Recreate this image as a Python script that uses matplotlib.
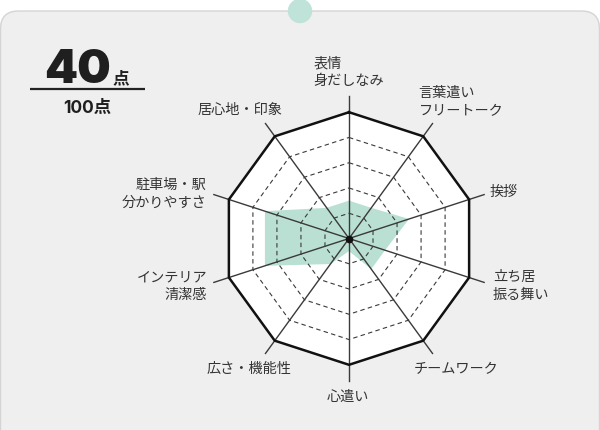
import numpy as np
import matplotlib
matplotlib.use("Agg")
import matplotlib.pyplot as plt
from matplotlib.patches import FancyBboxPatch, Circle, Polygon

# ── data ──────────────────────────────────────────────────────────────────────
categories = ["表情\n身だしなみ", "言葉遣い\nフリートーク", "挨拶", "立ち居\n振る舞い",
              "チームワーク", "心遣い", "広さ・機能性", "インテリア\n清潔感",
              "駐車場・駅\n分かりやすさ", "居心地・印象"]
scores = [3, 3, 5, 3, 3, 1, 2.5, 7, 7, 3]
max_score = 10
ring_levels = [2, 4, 6, 8, 10]
total_score = 40
total_max = 100

# ── layout (pixels of the 600x431 canvas) ────────────────────────────────────
W, H = 600, 431
CX, CY, UNIT = 349.0, 239.5, 12.63          # radar centre and px per score unit
label_centres = [(349, 72), (461, 102), (504, 192), (521, 286), (456, 369),
                 (348, 397), (249, 369), (172, 286), (164, 194), (240, 110)]
label_align = ["left", "left", "center", "left", "center",
               "center", "center", "right", "right", "center"]

JP = ["Noto Sans CJK JP", "DejaVu Sans"]
NUM = ["Inter", "Noto Sans CJK JP", "DejaVu Sans"]

fig = plt.figure(figsize=(W / 100, H / 100), dpi=100)

# background card
bg = fig.add_axes([0, 0, 1, 1])
bg.set_xlim(0, W); bg.set_ylim(H, 0); bg.axis("off")
bg.add_patch(FancyBboxPatch((0.5, 12), W - 1, 460,
                            boxstyle="round,pad=0,rounding_size=18",
                            fc="#efefef", ec="#d4d4d4", lw=1.0))
bg.add_patch(Circle((300, 12), 11.5, color="#bfe3d9", zorder=3))

# score block
bg.text(78, 83, str(total_score), fontsize=34, fontweight="black", family=NUM,
        color="#1f1f1f", ha="center", va="baseline")
bg.text(112, 83.5, "点", fontsize=12, fontweight="bold", family=JP,
        color="#1f1f1f", ha="left", va="baseline")
bg.plot([30, 145], [89.5, 89.5], color="#222222", lw=1.6, solid_capstyle="butt")
bg.text(87, 113, f"{total_max}点", fontsize=12.5, fontweight="bold", family=NUM,
        color="#1f1f1f", ha="center", va="baseline")

# radar
ax = fig.add_axes([0, 0, 1, 1])
ax.set_facecolor("none")
ax.set_xlim(-CX / UNIT, (W - CX) / UNIT)
ax.set_ylim(-(H - CY) / UNIT, CY / UNIT)
ax.axis("off")

n = len(categories)
theta = np.arange(n) * 2 * np.pi / n
ux, uy = np.sin(theta), np.cos(theta)

ax.add_patch(Polygon(np.c_[ux * max_score, uy * max_score], closed=True,
                     fc="white", ec="none", zorder=1))
vals = np.asarray(scores, dtype=float)
ax.add_patch(Polygon(np.c_[ux * vals, uy * vals], closed=True,
                     fc="#b9e0d3", ec="none", zorder=2))

for lv in ring_levels:
    xs = np.append(ux * lv, ux[0] * lv)
    ys = np.append(uy * lv, uy[0] * lv)
    if lv == max_score:
        ax.plot(xs, ys, color="#111111", lw=1.8, zorder=5, solid_joinstyle="miter")
    else:
        ax.plot(xs, ys, color="#3a3a3a", lw=0.8, ls=(0, (4, 3)), zorder=3)

for i in range(n):
    ax.plot([0, ux[i] * 11.25], [0, uy[i] * 11.25], color="#3a3a3a", lw=1.0, zorder=4)
ax.plot(0, 0, "o", color="#111111", ms=4.5, zorder=6)

for lab, (px, py), al in zip(categories, label_centres, label_align):
    bg.text(px, py, lab, fontsize=10.2, family=JP, color="#333333",
            ha="center", va="center", multialignment=al, linespacing=1.35)

fig.savefig("out.png", dpi=100)
